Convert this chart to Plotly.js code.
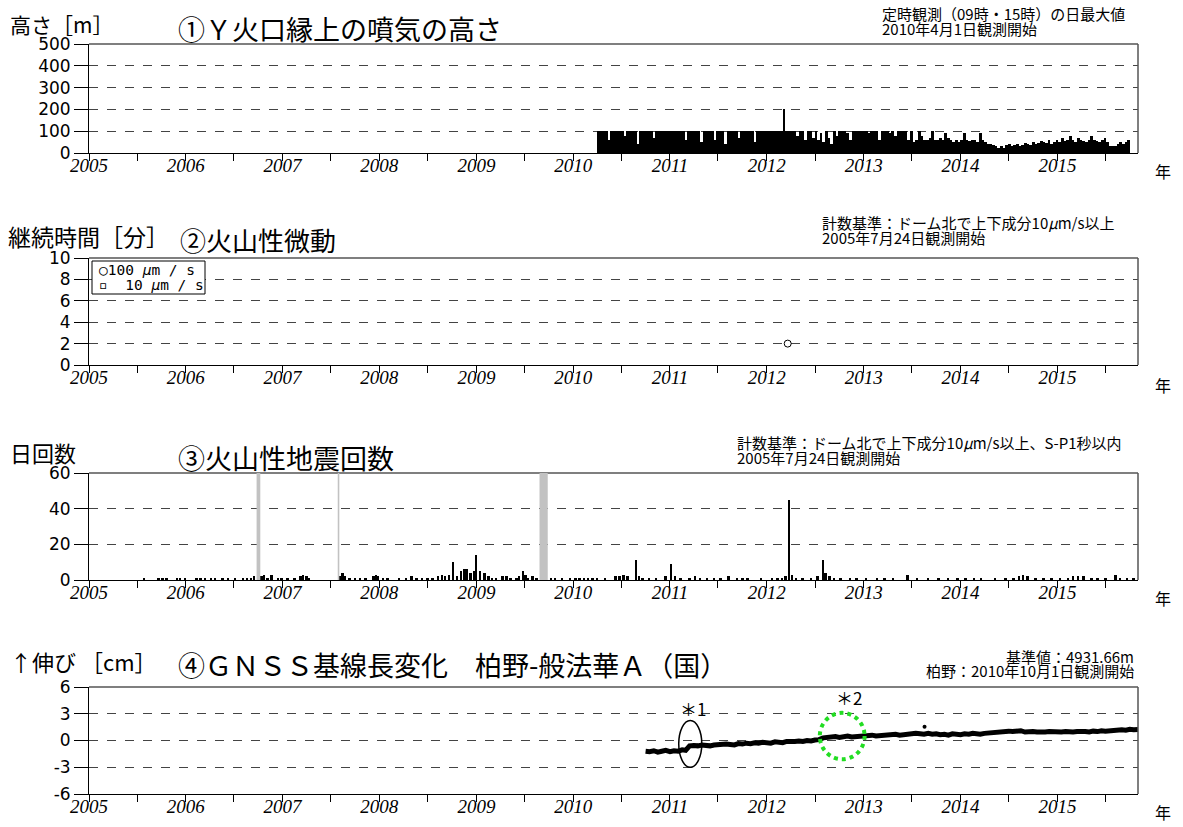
<!DOCTYPE html>
<html>
<head>
<meta charset="utf-8">
<script src="https://cdn.plot.ly/plotly-3.0.1.min.js"></script>
<style>html,body{margin:0;padding:0;background:#fff}#chart{width:1183px;height:827px}</style>
</head>
<body>
<div id="chart"></div>
<script>
// ---------- DATA ----------
// Panel 1: plume height above Y crater rim (10-day bins, daily max) from 2010-04-01
const plumeStart = '2010-04-01';
const plumeBinDays = 10;
const plumeHeights = [
  // 2010 Apr-Dec
  100,100,100,100,60,100,100,100,100,100,80,100,100,100,100,40,100,100,100,100,100,70,100,100,100,100,100,
  // 2011
  100,100,100,100,100,100,60,100,100,100,100,100,50,100,100,100,100,60,100,100,100,40,100,100,100,100,70,100,100,100,100,100,50,100,100,100,
  // 2012
  100,100,100,100,100,100,100,200,100,100,100,100,80,100,100,60,100,100,70,100,60,90,50,100,70,40,100,80,100,100,100,90,60,100,100,100,
  // 2013
  100,100,100,90,100,100,100,60,100,100,100,90,100,80,100,100,100,100,60,100,50,60,100,80,60,60,70,100,60,60,70,60,90,70,60,50,
  // 2014
  60,50,60,90,60,55,60,60,50,90,60,50,40,40,35,30,25,30,25,35,40,30,35,40,30,35,45,40,35,50,40,45,55,50,45,60,
  // 2015 Jan-Oct
  40,50,60,50,70,55,60,80,60,50,70,60,55,50,60,80,60,55,50,60,70,50,30,30,30,40,50,40,50,60
];

// Panel 2: volcanic tremor
const tremorDates = ['2012-03-20'];
const tremorMinutes = [2];

// Panel 3: daily number of volcanic earthquakes
const quakeDates = [
  '2005-07-28','2005-09-20','2005-10-05','2005-10-20','2005-11-28','2005-12-10','2005-12-28',
  '2006-02-10','2006-02-25','2006-03-15','2006-04-05','2006-04-20','2006-05-20','2006-06-10','2006-07-05','2006-08-05','2006-08-20','2006-09-05','2006-09-15',
  '2006-10-14','2006-10-24','2006-11-05','2006-11-20','2006-12-15','2006-12-28',
  '2007-01-20','2007-02-15','2007-03-10','2007-03-20','2007-04-01','2007-04-10',
  '2007-08-07','2007-08-15','2007-08-25','2007-09-10','2007-10-01','2007-10-20','2007-11-10','2007-12-10','2007-12-20','2007-12-28',
  '2008-01-15','2008-02-01','2008-03-15','2008-04-10','2008-05-01','2008-05-20','2008-06-10','2008-07-01','2008-07-20','2008-08-10','2008-08-25','2008-09-05','2008-09-20',
  '2008-10-05','2008-10-20','2008-11-05','2008-11-15','2008-11-25','2008-12-10','2008-12-22','2008-12-30',
  '2009-01-15','2009-02-01','2009-02-15','2009-03-01','2009-03-15','2009-04-10','2009-04-25','2009-05-10','2009-06-01','2009-06-10','2009-06-25','2009-07-05','2009-07-15','2009-08-01','2009-08-15',
  '2009-10-10','2009-10-25','2009-11-20','2009-12-20',
  '2010-01-10','2010-01-25','2010-02-10','2010-02-25','2010-03-15','2010-04-01','2010-05-01','2010-06-10','2010-06-25','2010-07-10','2010-07-25','2010-08-25','2010-09-05','2010-09-20','2010-10-15','2010-11-10','2010-12-15',
  '2011-01-05','2011-01-20','2011-02-10','2011-03-15','2011-04-05','2011-04-25','2011-05-20','2011-06-15','2011-07-10','2011-08-10','2011-09-10','2011-10-01','2011-10-20','2011-12-10',
  '2012-01-20','2012-02-10','2012-02-28','2012-03-12','2012-03-24','2012-04-05','2012-04-20','2012-05-15','2012-06-15','2012-07-10','2012-07-30','2012-08-10','2012-08-25','2012-09-10','2012-10-05','2012-11-10','2012-12-05',
  '2013-01-10','2013-02-20','2013-03-20','2013-04-20','2013-06-15','2013-07-20','2013-09-01','2013-10-10','2013-11-15','2013-12-20',
  '2014-01-20','2014-02-20','2014-03-20','2014-05-10','2014-06-20','2014-07-20','2014-08-10','2014-08-25','2014-09-10','2014-10-10','2014-11-10','2014-12-10',
  '2015-01-10','2015-02-10','2015-03-01','2015-03-20','2015-04-10','2015-05-10','2015-06-01','2015-07-01','2015-08-08','2015-08-25','2015-09-20','2015-10-15'
];
const quakeCounts = [
  1,1,1,1,1,1,1,
  1,1,1,1,1,1,1,1,1,1,1,2,
  2,3,1,3,1,1,
  1,1,2,3,2,1,
  2,4,2,1,1,1,1,2,3,2,
  1,1,1,1,2,1,1,1,1,2,3,2,3,
  10,2,5,6,6,4,5,14,
  5,4,2,1,1,2,2,1,1,2,5,3,1,2,1,
  1,1,1,1,
  1,1,1,1,1,1,1,2,2,3,2,11,2,1,1,1,2,
  9,2,1,1,2,1,1,1,1,2,1,1,1,1,
  1,1,1,2,45,3,1,1,1,2,11,4,2,1,1,1,1,
  1,1,1,1,3,1,1,1,1,1,
  1,1,1,1,1,1,2,3,2,1,1,1,
  1,1,2,2,2,1,1,1,3,1,1,1
];
// Missing-data periods (grey bands)
const gapStarts = ['2006-09-25','2007-07-28','2009-08-27'];
const gapEnds   = ['2006-10-09','2007-08-03','2009-09-27'];

// Panel 4: GNSS baseline length change (semi-monthly) from 2010-10-01
const gnssStart = {year: 2010, month: 10};
const gnssValues = [
  -1.2,-1.25, -1.15,-1.3, -1.2,-1.1,
  -1.25,-1.15, -1.2,-1.05, -1.1,-0.6, -0.55,-0.6, -0.5,-0.55, -0.6,-0.5, -0.45,-0.5, -0.4,-0.45, -0.5,-0.35, -0.4,-0.3, -0.35,-0.25, -0.3,-0.2,
  -0.25,-0.3, -0.15,-0.2, -0.25,-0.1, -0.15,-0.1, -0.05,-0.1, 0.0,-0.05, 0.05,0.1, 0.3,0.35, 0.4,0.45, 0.35,0.45, 0.5,0.4, 0.45,0.55,
  0.5,0.55, 0.6,0.5, 0.55,0.6, 0.65,0.6, 0.7,0.6, 0.65,0.75, 0.7,0.8, 0.75,0.7, 0.8,0.7, 0.75,0.65, 0.7,0.6, 0.75,0.7,
  0.65,0.75, 0.7,0.8, 0.75,0.7, 0.8,0.85, 0.9,0.85, 0.95,1.0, 1.05,1.0, 1.0,1.1, 0.95,1.0, 1.0,0.95, 0.9,0.95, 1.0,0.95,
  0.9,0.95, 1.0,0.95, 0.95,1.0, 1.05,1.0, 0.95,1.05, 1.0,1.1, 1.05,1.1, 1.15,1.1, 1.2,1.15, 1.25,1.2,
  1.22
];
const gnssOutlierDates = ['2013-08-18'];
const gnssOutlierValues = [1.55];

// Tick labels
const yTicks1 = [0,100,200,300,400,500];
const yTicks2 = [0,2,4,6,8,10];
const yTicks3 = [0,20,40,60];
const yTicks4 = [-6,-3,0,3,6];
const yTickText4 = ['-6','-3','0','3','6'];

// ---------- BUILD ----------
const W = 1183, H = 827;
const px = x => x / W;
const py = y => 1 - y / H;
const DAY = 86400000;

function isoDay(ms){ return new Date(ms).toISOString().slice(0,10); }
const plumeDates = plumeHeights.map((v,i) => isoDay(Date.parse(plumeStart) + (i*plumeBinDays + plumeBinDays/2)*DAY));
const gnssDates = gnssValues.map((v,i) => {
  const m0 = gnssStart.month - 1 + Math.floor(i/2);
  const y = gnssStart.year + Math.floor(m0/12);
  const m = (m0 % 12) + 1;
  return y + '-' + String(m).padStart(2,'0') + '-' + (i % 2 ? '16' : '01');
});

const traces = [
  {type:'bar', x: plumeDates, y: plumeHeights, xaxis:'x', yaxis:'y',
   width: plumeBinDays*DAY, marker:{color:'#000', line:{width:0}}},
  {type:'scatter', mode:'markers', x: tremorDates, y: tremorMinutes, xaxis:'x2', yaxis:'y2',
   marker:{symbol:'circle-open', size:7, color:'#000', line:{width:1, color:'#000'}}},
  {type:'bar', x: quakeDates, y: quakeCounts, xaxis:'x3', yaxis:'y3',
   width: 9*DAY, marker:{color:'#000', line:{width:0}}},
  {type:'scatter', mode:'lines', x: gnssDates, y: gnssValues, xaxis:'x4', yaxis:'y4',
   line:{color:'#000', width:5}},
  {type:'scatter', mode:'markers', x: gnssOutlierDates, y: gnssOutlierValues, xaxis:'x4', yaxis:'y4',
   marker:{color:'#000', size:4}}
];

const xdom = [px(89), px(1138)];
const ydoms = [[py(153), py(44)], [py(365), py(258)], [py(580), py(473)], [py(794), py(687)]];

function xAxis(i){
  return {
    type:'date', domain: xdom, anchor: i===1 ? 'y' : 'y'+i,
    range:['2005-01-01','2015-11-01'], tick0:'2005-01-01', dtick:'M12', tickformat:'%Y',
    ticks:'outside', ticklen:7, tickwidth:1, tickcolor:'#000',
    minor:{dtick:'M6', tick0:'2005-01-01', ticks:'outside', ticklen:7, tickwidth:1, tickcolor:'#000', showgrid:false},
    showline:true, linecolor:'#000', linewidth:1, showgrid:false, zeroline:false,
    tickfont:{family:'Liberation Serif', style:'italic', size:19, color:'#000'},
    ticklabelstandoff:-12,
    fixedrange:true
  };
}
function yAxis(i, range, vals, text){
  return {
    domain: ydoms[i-1], anchor: i===1 ? 'x' : 'x'+i, range: range,
    tickmode:'array', tickvals: vals, ticktext: text || vals.map(String),
    ticks:'outside', ticklen:14, tickwidth:1, tickcolor:'#000',
    showline:true, linecolor:'#000', linewidth:1,
    showgrid:true, gridcolor:'#444', griddash:'dash', gridwidth:1, zeroline:false,
    tickfont:{family:'DejaVu Sans', size:17, color:'#000'},
    fixedrange:true
  };
}

const shapes = [];
['','2','3','4'].forEach(s => {
  shapes.push({type:'line', xref:'x'+s+' domain', yref:'y'+s+' domain', x0:0, x1:1, y0:1, y1:1, line:{color:'#555', width:1.5}});
  shapes.push({type:'line', xref:'x'+s+' domain', yref:'y'+s+' domain', x0:1, x1:1, y0:0, y1:1, line:{color:'#555', width:1.5}});
});
gapStarts.forEach((g,i) => {
  shapes.push({type:'rect', xref:'x3', yref:'y3 domain', x0:g, x1:gapEnds[i], y0:0, y1:1,
    fillcolor:'#c2c2c2', line:{width:0}, layer:'above'});
});
shapes.push({type:'circle', xref:'x4', yref:'y4', x0:'2011-02-03', x1:'2011-05-01', y0:-3.0, y1:2.25,
  line:{color:'#000', width:1.5}});
shapes.push({type:'circle', xref:'x4', yref:'y4', x0:'2012-07-19', x1:'2013-01-04', y0:-2.1, y1:3.1,
  line:{color:'#22dd22', width:4, dash:'dot'}});
// legend box of panel 2
shapes.push({type:'rect', xref:'paper', yref:'paper', x0:px(92), x1:px(205), y0:py(294), y1:py(261),
  line:{color:'#000', width:1}, fillcolor:'#fff'});

const JP = 'Noto Sans CJK JP';
function ann(text, x, y, size, opts){
  return Object.assign({text: text, xref:'paper', yref:'paper', x: px(x), y: py(y), showarrow:false,
    xanchor:'left', yanchor:'middle', font:{family: JP, size: size, color:'#000'}}, opts || {});
}
const NB = '\u00a0';
const MONO = {family:'DejaVu Sans Mono', size:14.5, color:'#000'};
const annotations = [
  ann('高さ［m］', 8, 24, 21),
  ann('①Ｙ火口縁上の噴気の高さ', 176, 28, 27),
  ann('定時観測（09時・15時）の日最大値', 880, 13, 15),
  ann('2010年4月1日観測開始', 880, 28, 15),

  ann('継続時間［分］', 6, 236, 23),
  ann('②火山性微動', 178, 239, 26),
  ann('計数基準：ドーム北で上下成分10<i>μ</i>m/s以上', 820, 223, 15),
  ann('2005年7月24日観測開始', 820, 237, 15),

  ann('日回数', 8, 452, 22),
  ann('③火山性地震回数', 176, 457, 27),
  ann('計数基準：ドーム北で上下成分10<i>μ</i>m/s以上、S-P1秒以内', 735, 442, 15),
  ann('2005年7月24日観測開始', 735, 457, 15),

  ann('↑伸び' + NB + '［cm］', 8, 661, 22),
  ann('④ＧＮＳＳ基線長変化　柏野-般法華Ａ（国）', 176, 664, 27),
  ann('基準値：4931.66m', 1136, 656, 15, {xanchor:'right'}),
  ann('柏野：2010年10月1日観測開始', 1136, 670, 15, {xanchor:'right'}),

  ann('年', 1163, 171, 16, {xanchor:'center'}),
  ann('年', 1163, 385, 16, {xanchor:'center'}),
  ann('年', 1163, 598, 16, {xanchor:'center'}),
  ann('年', 1163, 812, 16, {xanchor:'center'}),

  ann('＊1', 693, 708, 17, {xanchor:'center'}),
  ann('＊2', 849, 697, 17, {xanchor:'center'}),

  ann('○100' + NB + '<i>μ</i>m' + NB + '/' + NB + 's', 97, 270, 14.5, {font: MONO}),
  ann('▫' + NB + NB + '10' + NB + '<i>μ</i>m' + NB + '/' + NB + 's', 97, 285, 14.5, {font: MONO})
];

const layout = {
  width: W, height: H, margin:{l:0, r:0, t:0, b:0},
  paper_bgcolor:'#fff', plot_bgcolor:'#fff', showlegend:false,
  xaxis: xAxis(1), xaxis2: xAxis(2), xaxis3: xAxis(3), xaxis4: xAxis(4),
  yaxis: yAxis(1, [0,500], yTicks1),
  yaxis2: yAxis(2, [0,10], yTicks2),
  yaxis3: yAxis(3, [0,60], yTicks3),
  yaxis4: yAxis(4, [-6,6], yTicks4, yTickText4),
  shapes: shapes, annotations: annotations, bargap: 0
};

Plotly.newPlot('chart', traces, layout, {displayModeBar:false, staticPlot:true});
</script>
</body>
</html>
